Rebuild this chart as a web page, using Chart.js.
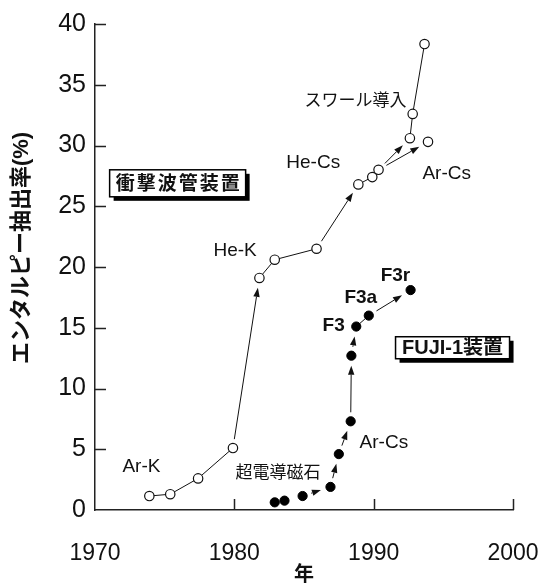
<!DOCTYPE html>
<html>
<head>
<meta charset="utf-8">
<script src="https://cdn.jsdelivr.net/npm/chart.js@4.4.1/dist/chart.umd.min.js"></script>
<style>
  html, body { margin: 0; padding: 0; background: #fff; }
</style>
</head>
<body>
<canvas id="chart" width="543" height="585"></canvas>
<script>
const FONT = `"Liberation Sans", Arial, "Noto Sans CJK JP", sans-serif`;
const INK = `#111`;

// 衝撃波管装置 (open circles)
const shockYears = [1973.9, 1975.4, 1977.4, 1979.9, 1981.8, 1982.9, 1985.9, 1988.9, 1989.9, 1990.35, 1992.6, 1992.8, 1993.65, 1993.9];
const shockValues = [1.15, 1.3, 2.6, 5.1, 19.1, 20.6, 21.5, 26.8, 27.4, 28.0, 30.6, 32.6, 38.35, 30.3];
// pairs of point indexes: joined by a plain line / by an arrow
const shockLines = [[0, 1], [1, 2], [2, 3], [4, 5], [5, 6], [7, 8], [8, 9], [10, 11], [11, 12]];
const shockArrows = [[3, 4], [6, 7], [9, 10], [9, 13]];

// FUJI-1装置 (filled circles)
const fujiYears = [1982.9, 1983.6, 1984.9, 1986.9, 1987.5, 1988.35, 1988.4, 1988.75, 1989.65, 1992.65];
const fujiValues = [0.63, 0.77, 1.15, 1.9, 4.6, 7.3, 12.7, 15.1, 16.0, 18.1];
const fujiLines = [[7, 8]];
const fujiArrows = [[3, 4], [4, 5], [5, 6], [6, 7], [8, 9]];
const fujiDashedArrows = [[2, 3]];

const xTicks = [1970, 1980, 1990, 2000];
const yTicks = [0, 5, 10, 15, 20, 25, 30, 35, 40];

const Y_TITLE = `エンタルピー抽出率(%)`;
const X_TITLE = `年`;

// text notes, anchored in data units (left edge, vertical middle)
const notes = [
  {text: `Ar-K`, x: 1971.97, y: 3.54, size: 19},
  {text: `超電導磁石`, x: 1980.09, y: 3.05, size: 17},
  {text: `Ar-Cs`, x: 1988.99, y: 5.51, size: 19},
  {text: `He-K`, x: 1978.5, y: 21.3, size: 19},
  {text: `He-Cs`, x: 1983.73, y: 28.55, size: 19},
  {text: `スワール導入`, x: 1985.04, y: 33.6, size: 17},
  {text: `Ar-Cs`, x: 1993.5, y: 27.65, size: 19},
  {text: `F3`, x: 1986.33, y: 15.2, size: 19, bold: true},
  {text: `F3a`, x: 1987.9, y: 17.45, size: 19, bold: true},
  {text: `F3r`, x: 1990.5, y: 19.26, size: 19, bold: true},
];

// framed captions with a drop shadow, top-left corner in data units
const boxes = [
  {text: `衝撃波管装置`, x: 1971.05, y: 28.0, w: 136, h: 27, size: 19, spacing: 2},
  {text: `FUJI-1装置`, x: 1991.57, y: 14.26, w: 114, h: 22, size: 20, spacing: 0},
];

const toPoints = (xs, ys) => xs.map((x, i) => ({x, y: ys[i]}));

const drawArrow = (ctx, a, b, dashed) => {
  const gapStart = 9;
  const gapEnd = 10;
  const head = 9;
  const half = 3.2;
  const dx = b.x - a.x;
  const dy = b.y - a.y;
  const len = Math.hypot(dx, dy);
  const ux = dx / len;
  const uy = dy / len;
  const sx = a.x + ux * gapStart;
  const sy = a.y + uy * gapStart;
  const ex = b.x - ux * gapEnd;
  const ey = b.y - uy * gapEnd;
  const bx = ex - ux * head;
  const by = ey - uy * head;

  ctx.beginPath();
  ctx.setLineDash(dashed ? [4, 3] : []);
  ctx.moveTo(sx, sy);
  ctx.lineTo(bx, by);
  ctx.stroke();
  ctx.setLineDash([]);

  ctx.beginPath();
  ctx.moveTo(ex, ey);
  ctx.lineTo(bx - uy * half, by + ux * half);
  ctx.lineTo(bx + uy * half, by - ux * half);
  ctx.closePath();
  ctx.fill();
};

// connecting lines and arrows, drawn under the markers
const linksPlugin = {
  id: `links`,
  beforeDatasetsDraw(chart) {
    const {ctx, scales: {x, y}} = chart;
    const px = (years, values, i) => ({x: x.getPixelForValue(years[i]), y: y.getPixelForValue(values[i])});

    ctx.save();
    ctx.strokeStyle = INK;
    ctx.fillStyle = INK;
    ctx.lineWidth = 1;

    const groups = [
      {years: shockYears, values: shockValues, lines: shockLines, arrows: shockArrows, dashed: []},
      {years: fujiYears, values: fujiValues, lines: fujiLines, arrows: fujiArrows, dashed: fujiDashedArrows},
    ];

    groups.forEach((g) => {
      g.lines.forEach(([i, j]) => {
        const a = px(g.years, g.values, i);
        const b = px(g.years, g.values, j);
        ctx.beginPath();
        ctx.moveTo(a.x, a.y);
        ctx.lineTo(b.x, b.y);
        ctx.stroke();
      });
      g.arrows.forEach(([i, j]) => drawArrow(ctx, px(g.years, g.values, i), px(g.years, g.values, j), false));
      g.dashed.forEach(([i, j]) => drawArrow(ctx, px(g.years, g.values, i), px(g.years, g.values, j), true));
    });

    ctx.restore();
  }
};

// tick marks pointing into the plot, labels, framed captions, y title
const decorPlugin = {
  id: `decor`,
  afterDraw(chart) {
    const {ctx, chartArea, scales: {x, y}} = chart;
    const tick = 11;

    ctx.save();
    ctx.strokeStyle = `#222`;
    ctx.lineWidth = 1.5;
    ctx.beginPath();
    yTicks.filter((v) => v > 0).forEach((v) => {
      const py = Math.round(y.getPixelForValue(v)) + 0.5;
      ctx.moveTo(chartArea.left, py);
      ctx.lineTo(chartArea.left + tick, py);
    });
    xTicks.filter((v) => v > 1970).forEach((v) => {
      const pxl = Math.round(x.getPixelForValue(v)) + 0.5;
      ctx.moveTo(pxl, chartArea.bottom);
      ctx.lineTo(pxl, chartArea.bottom - tick);
    });
    ctx.stroke();

    ctx.fillStyle = INK;
    ctx.textAlign = `left`;
    ctx.textBaseline = `middle`;
    notes.forEach((n) => {
      ctx.font = `${n.bold ? `bold ` : ``}${n.size}px ${FONT}`;
      ctx.fillText(n.text, x.getPixelForValue(n.x), y.getPixelForValue(n.y));
    });

    boxes.forEach((b) => {
      const bx = x.getPixelForValue(b.x);
      const by = y.getPixelForValue(b.y);
      ctx.fillStyle = `#000`;
      ctx.fillRect(bx + 4, by + 4, b.w, b.h);
      ctx.fillStyle = `#fff`;
      ctx.fillRect(bx, by, b.w, b.h);
      ctx.strokeStyle = `#000`;
      ctx.lineWidth = 1.5;
      ctx.strokeRect(bx, by, b.w, b.h);
      ctx.fillStyle = INK;
      ctx.font = `bold ${b.size}px ${FONT}`;
      ctx.letterSpacing = `${b.spacing}px`;
      ctx.textAlign = `center`;
      ctx.fillText(b.text, bx + b.w / 2 + b.spacing / 2, by + b.h / 2 + 1);
      ctx.letterSpacing = `0px`;
    });

    ctx.translate(22, 248);
    ctx.rotate(-Math.PI / 2);
    ctx.font = `bold 22px ${FONT}`;
    ctx.textAlign = `center`;
    ctx.fillText(Y_TITLE, 0, 0);
    ctx.restore();
  }
};

const ctx = document.getElementById(`chart`).getContext(`2d`);

new Chart(ctx, {
  type: `scatter`,
  data: {
    datasets: [{
      label: `衝撃波管装置`,
      data: toPoints(shockYears, shockValues),
      pointStyle: `circle`,
      pointRadius: 4.7,
      pointBackgroundColor: `#fff`,
      pointBorderColor: INK,
      pointBorderWidth: 1.2,
      showLine: false,
    }, {
      label: `FUJI-1装置`,
      data: toPoints(fujiYears, fujiValues),
      pointStyle: `circle`,
      pointRadius: 4.6,
      pointBackgroundColor: `#000`,
      pointBorderColor: `#000`,
      pointBorderWidth: 1,
      showLine: false,
    }],
  },
  options: {
    responsive: false,
    animation: false,
    layout: {
      padding: {top: 24, right: 30, left: 0, bottom: 0}
    },
    plugins: {
      legend: {display: false},
      tooltip: {enabled: false},
    },
    scales: {
      x: {
        type: `linear`,
        min: 1970,
        max: 2000,
        afterBuildTicks: (scale) => {
          scale.ticks = xTicks.map((value) => ({value}));
        },
        afterFit: (scale) => {
          scale.height = 75;
          scale.paddingLeft = 0;
          scale.paddingRight = 0;
        },
        ticks: {
          autoSkip: false,
          maxRotation: 0,
          padding: 30,
          color: INK,
          font: {family: FONT, size: 23},
          callback: (value) => String(value),
        },
        grid: {display: false, drawTicks: false},
        border: {display: true, color: `#222`, width: 1.5},
        title: {
          display: true,
          text: X_TITLE,
          color: INK,
          padding: 0,
          font: {family: FONT, size: 20, weight: `bold`, lineHeight: 1},
        },
      },
      y: {
        min: 0,
        max: 40,
        afterBuildTicks: (scale) => {
          scale.ticks = yTicks.map((value) => ({value}));
        },
        afterFit: (scale) => {
          scale.width = 95;
          scale.paddingTop = 0;
          scale.paddingBottom = 0;
        },
        ticks: {
          padding: 9,
          color: INK,
          font: {family: FONT, size: 25},
        },
        grid: {display: false, drawTicks: false},
        border: {display: true, color: `#222`, width: 1.5},
      },
    },
  },
  plugins: [linksPlugin, decorPlugin],
});
</script>
</body>
</html>
